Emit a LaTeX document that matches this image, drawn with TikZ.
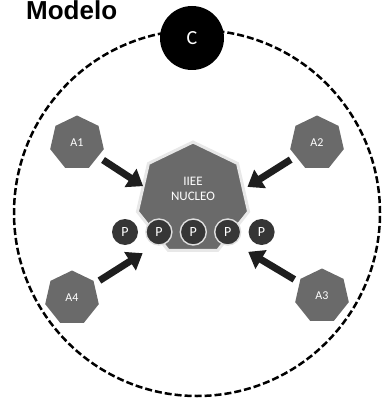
\documentclass[tikz,border=0pt]{standalone}
\usepackage{fontspec}
\setmainfont{Carlito}
\newfontfamily\titlefont{Liberation Sans}
\usetikzlibrary{shapes.geometric}
\usetikzlibrary{arrows.meta}
\usetikzlibrary{positioning}
\definecolor{hexgray}{HTML}{6A6A6A}
\definecolor{pgray}{HTML}{363636}
\definecolor{arrowgray}{HTML}{1E1E1E}
\tikzset{
  agent/.style={regular polygon, regular polygon sides=7, fill=hexgray, inner sep=0pt,
    minimum size=55pt, text=white, font=\fontsize{12}{12}\selectfont},
  core/.style={regular polygon, regular polygon sides=7, fill=hexgray, inner sep=0pt,
    minimum size=114pt, draw=gray!18, line width=3pt},
  pnode/.style={circle, fill=pgray, inner sep=0pt, minimum size=26pt, text=white,
    font=\fontsize{14}{14}\selectfont},
  pring/.style={pnode, draw=gray!25, line width=1.4pt},
  pointer/.style={line width=7pt, draw=arrowgray, -{Triangle[length=15pt,width=21pt]},
    shorten <=6pt, shorten >=62pt}
}
\begin{document}
\begin{tikzpicture}[x=1pt,y=-1pt]
\useasboundingbox (0,0) rectangle (382,401);
\node[circle, draw, dash pattern=on 7pt off 3pt, line width=2.5pt, minimum size=366pt] (ring) at (197,213) {};
\node[anchor=base west, inner sep=0pt, font=\titlefont\bfseries\fontsize{26}{26}\selectfont] (title) at (26,20) {Modelo};
\node[circle, fill=black, minimum size=64pt, text=white, font=\fontsize{20}{20}\selectfont] (c) at (192,38) {C};
\node[core] (nucleo) at (193,199) {};
\node[text=white, align=center, font=\fontsize{13}{15}\selectfont, inner sep=0pt] (nucleotxt) at ([yshift=10pt]nucleo.center) {IIEE\\NUCLEO};
\node[pnode] (p1) at (125,232) {P};
\node[pring, right=7pt of p1] (p2) {P};
\node[pring, right=7pt of p2] (p3) {P};
\node[pring, right=7pt of p3] (p4) {P};
\node[pnode, right=7pt of p4] (p5) {P};
\node[agent] (a1) at (77,143) {A1};
\node[agent] (a2) at (317,143) {A2};
\node[agent] (a3) at (322,296) {A3};
\node[agent] (a4) at (72,298) {A4};
\coordinate (hub) at (195,220);
\draw[pointer] (a1) -- (hub);
\draw[pointer] (a2) -- (hub);
\draw[pointer] (a3) -- (hub);
\draw[pointer] (a4) -- (hub);
\end{tikzpicture}
\end{document}
